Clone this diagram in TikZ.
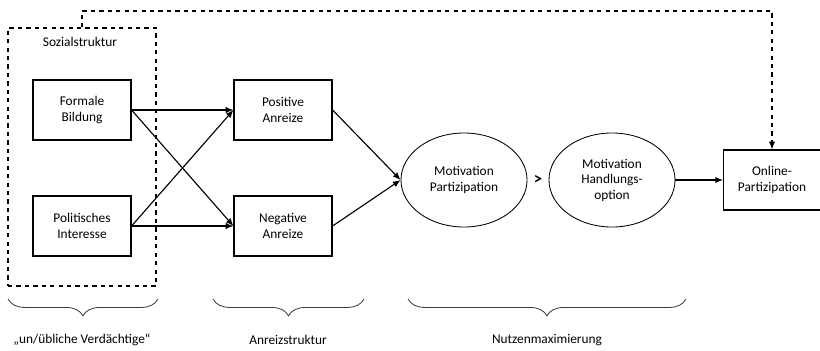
\documentclass[tikz,border=0pt]{standalone}
\usepackage{fontspec}
\setmainfont{Carlito}
\usetikzlibrary{arrows.meta,shapes.geometric,decorations.pathreplacing}
\tikzset{
	kasten/.style={draw, line width=0.8pt, minimum width=2.45cm, minimum height=1.5cm, align=center, inner sep=1pt},
	oval/.style={draw, ellipse, line width=0.6pt, minimum width=3.15cm, minimum height=2.35cm, align=center, inner sep=0pt},
	pfeil/.style={line width=0.8pt, -{Latex[length=5.5pt,width=4.5pt]}},
	klammer/.style={draw=black!75, line width=0.6pt, decorate, decoration={brace, mirror, amplitude=12pt}},
}
\begin{document}
\begin{tikzpicture}[x=0.025cm, y=-0.025cm, font=\fontsize{9.5}{11}\selectfont]
		\useasboundingbox (0,0) rectangle (820,350);
		\node [draw, dashed, line width=0.8pt, minimum width=3.7cm, minimum height=6.45cm] (soz) at (82,157) {};
		\node (sozlabel) at (80,42) {Sozialstruktur};
		\node [kasten] (bildung) at (82,110) {Formale\\Bildung};
		\node [kasten] (interesse) at (82,226) {Politisches\\Interesse};
		\node [kasten] (positiv) at (283,110) {Positive\\Anreize};
		\node [kasten] (negativ) at (283,226) {Negative\\Anreize};
		\node [oval] (motpart) at (464,180) {Motivation\\Partizipation};
		\node [font=\fontsize{12}{12}\bfseries] (groesser) at (538,180) {>};
		\node [oval] (mothand) at (612,180) {Motivation\\Handlungs-\\option};
		\node [kasten, minimum width=2.42cm] (online) at (772,180) {Online-\\Partizipation};
		\coordinate (oben) at (0,11);
		% Pfeile
		\draw [pfeil] (bildung.east) -- (positiv.west);
		\draw [pfeil] (bildung.east) -- (negativ.west);
		\draw [pfeil] (interesse.east) -- (positiv.west);
		\draw [pfeil] (interesse.east) -- (negativ.west);
		\draw [pfeil] (positiv.east) -- (motpart.west);
		\draw [pfeil] (negativ.east) -- (motpart.west);
		\draw [pfeil] (mothand.east) -- (online.west);
		\draw [pfeil, dashed] (soz.north) -- (soz.north |- oben) -| (online.north);
		% Klammern
		\draw [klammer] (8,299) -- (158,299);
		\draw [klammer] (213,299) -- (364,299);
		\draw [klammer] (408,299) -- (686,299);
		\node (verdaechtige) at (82,340) {„un/übliche Verdächtige“};
		\node (anreiz) at (288,340) {Anreizstruktur};
		\node (nutzen) at (547,340) {Nutzenmaximierung};
	\end{tikzpicture}
\end{document}
